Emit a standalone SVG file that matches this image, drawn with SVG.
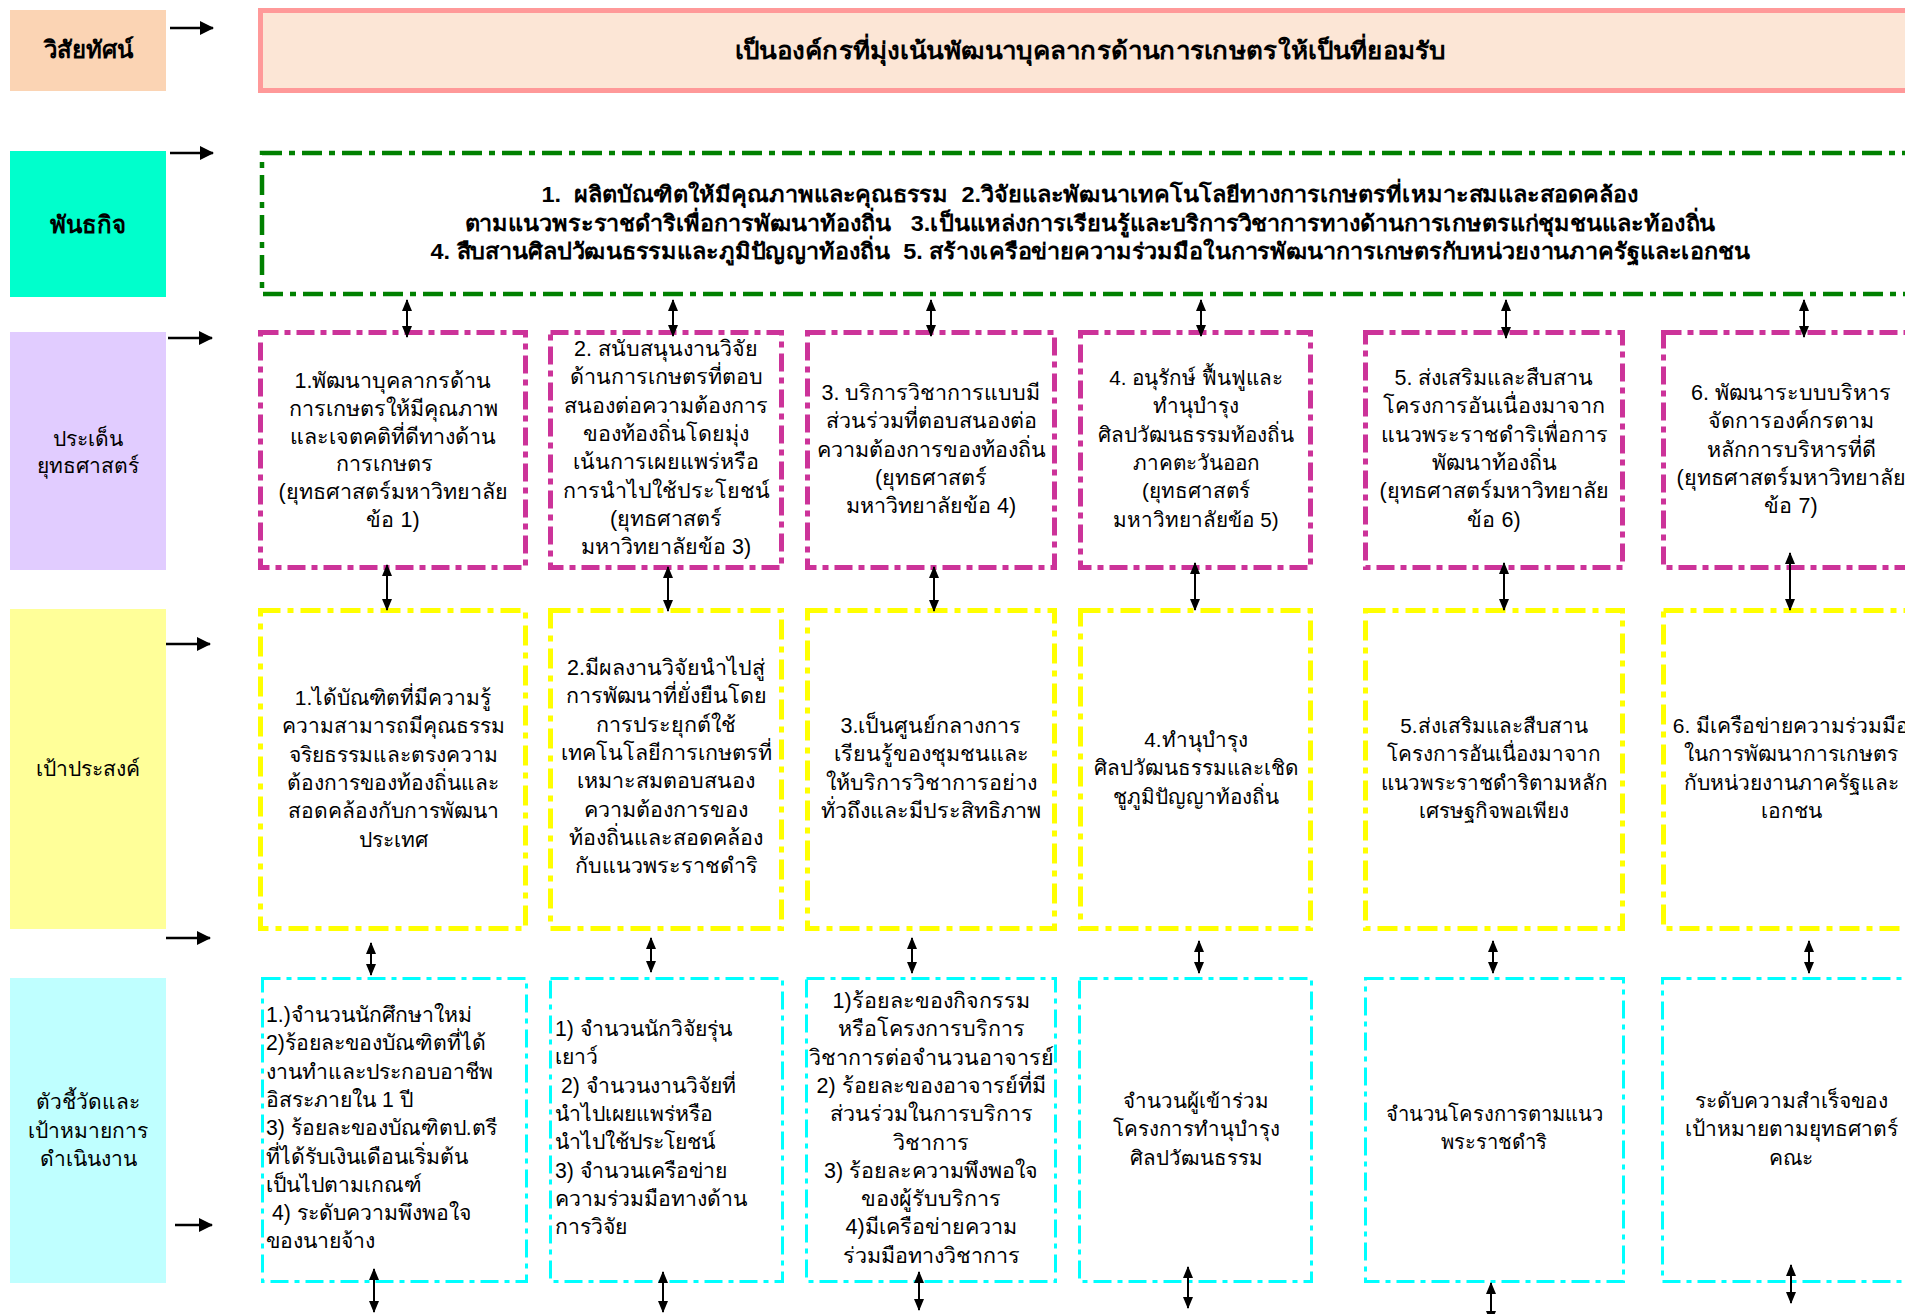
<svg xmlns="http://www.w3.org/2000/svg" width="1905" height="1314" viewBox="0 0 1905 1314">
<defs>
<marker id="ah" viewBox="0 0 12 12" refX="11" refY="6" markerWidth="12" markerHeight="12" markerUnits="userSpaceOnUse" orient="auto-start-reverse"><path d="M0,1 L12,6 L0,11 z" fill="#000"/></marker>
<marker id="ahL" viewBox="0 0 14 14" refX="13" refY="7" markerWidth="14" markerHeight="14" markerUnits="userSpaceOnUse" orient="auto"><path d="M0,0 L14,7 L0,14 z" fill="#000"/></marker>
</defs>
<style>
text{font-family:"Liberation Sans","DejaVu Sans","Noto Sans",sans-serif;fill:#000;white-space:pre}
.t{font-size:21.5px;text-anchor:middle}
.tl{font-size:21.2px;text-anchor:start}
.n{font-size:20.7px}
.b{font-size:22px;font-weight:bold;text-anchor:middle}
.lbl{font-size:21px;text-anchor:middle}
.lblb{font-size:24px;font-weight:bold;text-anchor:middle}
.mag{fill:#fff;stroke:#CC3399;stroke-width:5;stroke-dasharray:18 6 6 6}
.yel{fill:#fff;stroke:#FFFF00;stroke-width:5;stroke-dasharray:20 7 6 7}
.cya{fill:#fff;stroke:#00FFFF;stroke-width:3;stroke-dasharray:18 6 5 6}
.con line{stroke:#000;stroke-width:2;marker-start:url(#ah);marker-end:url(#ah)}
.la line{stroke:#000;stroke-width:2.5;marker-end:url(#ahL)}
</style>
<rect width="1905" height="1314" fill="#fff"/>

<!-- row labels -->
<g id="lbl-vision"><rect x="10" y="10" width="156" height="81" fill="#FBD4B4"/><text class="lblb" x="88" y="58">วิสัยทัศน์</text></g>
<g id="lbl-mission"><rect x="10" y="151" width="156" height="146" fill="#00FFCC"/><text class="lblb" x="88" y="233">พันธกิจ</text></g>
<g id="lbl-strategy"><rect x="10" y="332" width="156" height="238" fill="#E1CCFF"/><text class="lbl" x="88" y="446">ประเด็น</text><text class="lbl" x="88" y="473">ยุทธศาสตร์</text></g>
<g id="lbl-goal"><rect x="10" y="609" width="156" height="320" fill="#FFFF99"/><text class="lbl" x="88" y="776">เป้าประสงค์</text></g>
<g id="lbl-kpi"><rect x="10" y="978" width="156" height="305" fill="#BFFFFF"/><text class="lbl" x="88" y="1109">ตัวชี้วัดและ</text><text class="lbl" x="88" y="1138">เป้าหมายการ</text><text class="lbl" x="88" y="1166">ดำเนินงาน</text></g>

<!-- vision & mission -->
<g id="vision"><rect x="260.5" y="10.5" width="1700" height="80" fill="#FCE6D6" stroke="#FF9999" stroke-width="5"/>
<text class="b" x="1090" y="59" style="font-size:24px" textLength="711" lengthAdjust="spacingAndGlyphs">เป็นองค์กรที่มุ่งเน้นพัฒนาบุคลากรด้านการเกษตรให้เป็นที่ยอมรับ</text></g>
<g id="mission"><rect x="262" y="153" width="1700" height="141" fill="#fff" stroke="#008000" stroke-width="4.5" stroke-dasharray="20 7 6 7"/>
<text class="b" x="1090" y="202" textLength="1097" lengthAdjust="spacingAndGlyphs">1.  ผลิตบัณฑิตให้มีคุณภาพและคุณธรรม  2.วิจัยและพัฒนาเทคโนโลยีทางการเกษตรที่เหมาะสมและสอดคล้อง</text>
<text class="b" x="1090" y="231" textLength="1251" lengthAdjust="spacingAndGlyphs">ตามแนวพระราชดำริเพื่อการพัฒนาท้องถิ่น   3.เป็นแหล่งการเรียนรู้และบริการวิชาการทางด้านการเกษตรแก่ชุมชนและท้องถิ่น</text>
<text class="b" x="1090" y="259" textLength="1319" lengthAdjust="spacingAndGlyphs">4. สืบสานศิลปวัฒนธรรมและภูมิปัญญาท้องถิ่น  5. สร้างเครือข่ายความร่วมมือในการพัฒนาการเกษตรกับหน่วยงานภาครัฐและเอกชน</text></g>

<!-- strategy row -->
<g id="s1"><rect class="mag" x="260.5" y="332.5" width="265" height="235"/>
<text class="t" x="393" y="388"><tspan x="393">1.พัฒนาบุคลากรด้าน</tspan><tspan x="393" dy="27.8">การเกษตรให้มีคุณภาพ</tspan><tspan x="393" dy="27.8">และเจตคติที่ดีทางด้าน</tspan><tspan x="393" dy="27.8">การเกษตร   </tspan><tspan x="393" dy="27.8">(ยุทธศาสตร์มหาวิทยาลัย</tspan><tspan x="393" dy="27.8">ข้อ 1)</tspan></text></g>
<g id="s2"><rect class="mag" x="550.5" y="332.5" width="231" height="235"/>
<text class="t" x="666" y="356"><tspan x="666">2. สนับสนุนงานวิจัย</tspan><tspan x="666" dy="28.3">ด้านการเกษตรที่ตอบ</tspan><tspan x="666" dy="28.3">สนองต่อความต้องการ</tspan><tspan x="666" dy="28.3">ของท้องถิ่นโดยมุ่ง</tspan><tspan x="666" dy="28.3">เน้นการเผยแพร่หรือ</tspan><tspan x="666" dy="28.3">การนำไปใช้ประโยชน์</tspan><tspan x="666" dy="28.3">(ยุทธศาสตร์</tspan><tspan x="666" dy="28.3">มหาวิทยาลัยข้อ 3)</tspan></text></g>
<g id="s3"><rect class="mag" x="807.5" y="332.5" width="247" height="235"/>
<text class="t" x="931" y="400"><tspan x="931">3. บริการวิชาการแบบมี</tspan><tspan x="931" dy="28.3">ส่วนร่วมที่ตอบสนองต่อ</tspan><tspan x="931" dy="28.3">ความต้องการของท้องถิ่น</tspan><tspan x="931" dy="28.3">(ยุทธศาสตร์</tspan><tspan x="931" dy="28.3">มหาวิทยาลัยข้อ 4)</tspan></text></g>
<g id="s4"><rect class="mag" x="1080.5" y="332.5" width="230" height="235"/>
<text class="t n" x="1196" y="385"><tspan x="1196">4. อนุรักษ์ ฟื้นฟูและ</tspan><tspan x="1196" dy="28.3">ทำนุบำรุง</tspan><tspan x="1196" dy="28.3">ศิลปวัฒนธรรมท้องถิ่น</tspan><tspan x="1196" dy="28.3">ภาคตะวันออก</tspan><tspan x="1196" dy="28.3">(ยุทธศาสตร์</tspan><tspan x="1196" dy="28.3">มหาวิทยาลัยข้อ 5)</tspan></text></g>
<g id="s5"><rect class="mag" x="1365.5" y="332.5" width="257" height="235"/>
<text class="t" x="1494" y="385"><tspan x="1494">5. ส่งเสริมและสืบสาน</tspan><tspan x="1494" dy="28.3">โครงการอันเนื่องมาจาก</tspan><tspan x="1494" dy="28.3">แนวพระราชดำริเพื่อการ</tspan><tspan x="1494" dy="28.3">พัฒนาท้องถิ่น</tspan><tspan x="1494" dy="28.3">(ยุทธศาสตร์มหาวิทยาลัย</tspan><tspan x="1494" dy="28.3">ข้อ 6)</tspan></text></g>
<g id="s6"><rect class="mag" x="1663.5" y="332.5" width="259" height="235"/>
<text class="t" x="1791" y="400"><tspan x="1791">6. พัฒนาระบบบริหาร</tspan><tspan x="1791" dy="28.3">จัดการองค์กรตาม</tspan><tspan x="1791" dy="28.3">หลักการบริหารที่ดี</tspan><tspan x="1791" dy="28.3">(ยุทธศาสตร์มหาวิทยาลัย</tspan><tspan x="1791" dy="28.3">ข้อ 7)</tspan></text></g>

<!-- goal row -->
<g id="g1"><rect class="yel" x="260.5" y="610.5" width="265" height="318"/>
<text class="t" x="393" y="705" style="font-size:21px"><tspan x="393">1.ได้บัณฑิตที่มีความรู้</tspan><tspan x="393" dy="28.3">ความสามารถมีคุณธรรม</tspan><tspan x="393" dy="28.3">จริยธรรมและตรงความ</tspan><tspan x="393" dy="28.3">ต้องการของท้องถิ่นและ</tspan><tspan x="393" dy="28.3">สอดคล้องกับการพัฒนา</tspan><tspan x="393" dy="28.3">ประเทศ</tspan></text></g>
<g id="g2"><rect class="yel" x="550.5" y="610.5" width="231" height="318"/>
<text class="t" x="666" y="675"><tspan x="666">2.มีผลงานวิจัยนำไปสู่</tspan><tspan x="666" dy="28.3">การพัฒนาที่ยั่งยืนโดย</tspan><tspan x="666" dy="28.3">การประยุกต์ใช้</tspan><tspan x="666" dy="28.3">เทคโนโลยีการเกษตรที่</tspan><tspan x="666" dy="28.3">เหมาะสมตอบสนอง</tspan><tspan x="666" dy="28.3">ความต้องการของ</tspan><tspan x="666" dy="28.3">ท้องถิ่นและสอดคล้อง</tspan><tspan x="666" dy="28.3">กับแนวพระราชดำริ</tspan></text></g>
<g id="g3"><rect class="yel" x="807.5" y="610.5" width="247" height="318"/>
<text class="t" x="931" y="733"><tspan x="931">3.เป็นศูนย์กลางการ</tspan><tspan x="931" dy="28.3">เรียนรู้ของชุมชนและ</tspan><tspan x="931" dy="28.3">ให้บริการวิชาการอย่าง</tspan><tspan x="931" dy="28.3">ทั่วถึงและมีประสิทธิภาพ</tspan></text></g>
<g id="g4"><rect class="yel" x="1080.5" y="610.5" width="230" height="318"/>
<text class="t n" x="1196" y="747"><tspan x="1196">4.ทำนุบำรุง</tspan><tspan x="1196" dy="28.3">ศิลปวัฒนธรรมและเชิด</tspan><tspan x="1196" dy="28.3">ชูภูมิปัญญาท้องถิ่น</tspan></text></g>
<g id="g5"><rect class="yel" x="1365.5" y="610.5" width="257" height="318"/>
<text class="t n" x="1494" y="733"><tspan x="1494">5.ส่งเสริมและสืบสาน</tspan><tspan x="1494" dy="28.3">โครงการอันเนื่องมาจาก</tspan><tspan x="1494" dy="28.3">แนวพระราชดำริตามหลัก</tspan><tspan x="1494" dy="28.3">เศรษฐกิจพอเพียง</tspan></text></g>
<g id="g6"><rect class="yel" x="1663.5" y="610.5" width="259" height="318"/>
<text class="t" x="1791" y="733" style="font-size:21px"><tspan x="1791">6. มีเครือข่ายความร่วมมือ</tspan><tspan x="1791" dy="28.3">ในการพัฒนาการเกษตร</tspan><tspan x="1791" dy="28.3">กับหน่วยงานภาครัฐและ</tspan><tspan x="1791" dy="28.3">เอกชน</tspan></text></g>

<!-- KPI row -->
<g id="k1"><rect class="cya" x="262.5" y="978.5" width="264" height="303"/>
<text class="tl" x="266" y="1022"><tspan x="266">1.)จำนวนนักศึกษาใหม่</tspan><tspan x="266" dy="28.3">2)ร้อยละของบัณฑิตที่ได้</tspan><tspan x="266" dy="28.3">งานทำและประกอบอาชีพ</tspan><tspan x="266" dy="28.3">อิสระภายใน 1 ปี</tspan><tspan x="266" dy="28.3">3) ร้อยละของบัณฑิตป.ตรี</tspan><tspan x="266" dy="28.3">ที่ได้รับเงินเดือนเริ่มต้น</tspan><tspan x="266" dy="28.3">เป็นไปตามเกณฑ์</tspan><tspan x="266" dy="28.3"> 4) ระดับความพึงพอใจ</tspan><tspan x="266" dy="28.3">ของนายจ้าง</tspan></text></g>
<g id="k2"><rect class="cya" x="550.5" y="978.5" width="232" height="303"/>
<text class="tl" x="555" y="1036"><tspan x="555">1) จำนวนนักวิจัยรุ่น</tspan><tspan x="555" dy="28.3">เยาว์</tspan><tspan x="555" dy="28.3"> 2) จำนวนงานวิจัยที่</tspan><tspan x="555" dy="28.3">นำไปเผยแพร่หรือ</tspan><tspan x="555" dy="28.3">นำไปใช้ประโยชน์</tspan><tspan x="555" dy="28.3">3) จำนวนเครือข่าย</tspan><tspan x="555" dy="28.3">ความร่วมมือทางด้าน</tspan><tspan x="555" dy="28.3">การวิจัย</tspan></text></g>
<g id="k3"><rect class="cya" x="806.5" y="978.5" width="249" height="303"/>
<text class="t" x="931" y="1008"><tspan x="931">1)ร้อยละของกิจกรรม</tspan><tspan x="931" dy="28.3">หรือโครงการบริการ</tspan><tspan x="931" dy="28.3">วิชาการต่อจำนวนอาจารย์</tspan><tspan x="931" dy="28.3">2) ร้อยละของอาจารย์ที่มี</tspan><tspan x="931" dy="28.3">ส่วนร่วมในการบริการ</tspan><tspan x="931" dy="28.3">วิชาการ</tspan><tspan x="931" dy="28.3">3) ร้อยละความพึงพอใจ</tspan><tspan x="931" dy="28.3">ของผู้รับบริการ</tspan><tspan x="931" dy="28.3">4)มีเครือข่ายความ</tspan><tspan x="931" dy="28.3">ร่วมมือทางวิชาการ</tspan></text></g>
<g id="k4"><rect class="cya" x="1079.5" y="978.5" width="232" height="303"/>
<text class="t" x="1196" y="1108" style="font-size:20.5px"><tspan x="1196">จำนวนผู้เข้าร่วม</tspan><tspan x="1196" dy="28.3">โครงการทำนุบำรุง</tspan><tspan x="1196" dy="28.3">ศิลปวัฒนธรรม</tspan></text></g>
<g id="k5"><rect class="cya" x="1365.5" y="978.5" width="258" height="303"/>
<text class="t" x="1494" y="1121" style="font-size:20.2px"><tspan x="1494">จำนวนโครงการตามแนว</tspan><tspan x="1494" dy="28.3">พระราชดำริ</tspan></text></g>
<g id="k6"><rect class="cya" x="1662.5" y="978.5" width="260" height="303"/>
<text class="t" x="1791" y="1108" style="font-size:21px"><tspan x="1791">ระดับความสำเร็จของ</tspan><tspan x="1791" dy="28.3">เป้าหมายตามยุทธศาตร์</tspan><tspan x="1791" dy="28.3">คณะ</tspan></text></g>

<!-- connectors -->
<g id="connectors">
<g class="la">
<line x1="170" y1="28" x2="213" y2="28"/>
<line x1="170" y1="153" x2="213" y2="153"/>
<line x1="168" y1="338" x2="212" y2="338"/>
<line x1="166" y1="644" x2="210" y2="644"/>
<line x1="166" y1="938" x2="210" y2="938"/>
<line x1="175" y1="1225" x2="212" y2="1225"/>
</g>
<g class="con">
<line x1="407" y1="300" x2="407" y2="337"/>
<line x1="673" y1="300" x2="673" y2="336"/>
<line x1="931" y1="300" x2="931" y2="336"/>
<line x1="1201" y1="300" x2="1201" y2="336"/>
<line x1="1506" y1="300" x2="1506" y2="338"/>
<line x1="1804" y1="300" x2="1804" y2="337"/>

<line x1="387" y1="565" x2="387" y2="610"/>
<line x1="668" y1="567" x2="668" y2="611"/>
<line x1="934" y1="567" x2="934" y2="611"/>
<line x1="1195" y1="563" x2="1195" y2="610"/>
<line x1="1504" y1="563" x2="1504" y2="610"/>
<line x1="1790" y1="553" x2="1790" y2="610"/>

<line x1="371" y1="943" x2="371" y2="975"/>
<line x1="651" y1="938" x2="651" y2="972"/>
<line x1="912" y1="938" x2="912" y2="973"/>
<line x1="1199" y1="941" x2="1199" y2="973"/>
<line x1="1493" y1="941" x2="1493" y2="973"/>
<line x1="1809" y1="941" x2="1809" y2="973"/>

<line x1="374" y1="1269" x2="374" y2="1312"/>
<line x1="663" y1="1272" x2="663" y2="1312"/>
<line x1="919" y1="1272" x2="919" y2="1310"/>
<line x1="1188" y1="1267" x2="1188" y2="1308"/>
<line x1="1491" y1="1283" x2="1491" y2="1322"/>
<line x1="1791" y1="1265" x2="1791" y2="1303"/>
</g>
</g>
</svg>
